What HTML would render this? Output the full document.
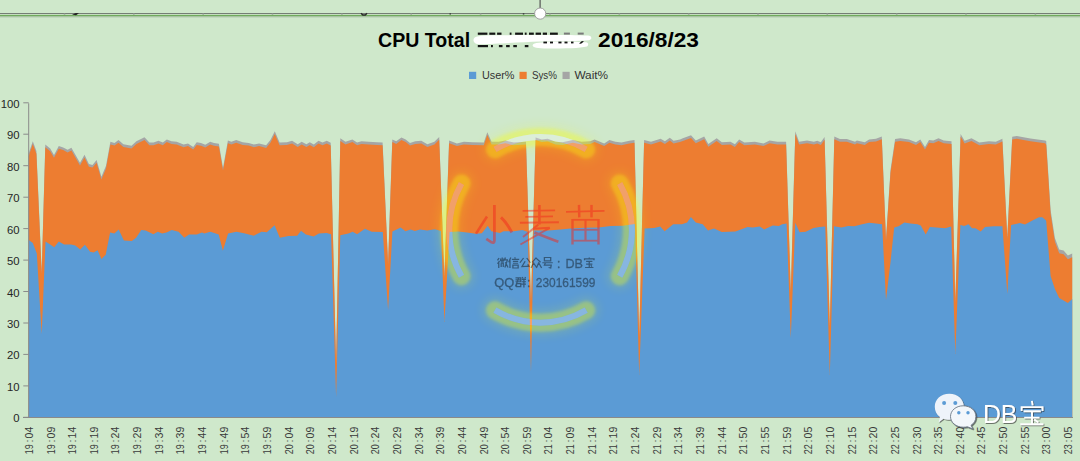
<!DOCTYPE html>
<html><head><meta charset="utf-8"><style>
html,body{margin:0;padding:0;width:1080px;height:461px;overflow:hidden;background:#cfe8cb;}
svg{position:absolute;left:0;top:0;font-family:"Liberation Sans",sans-serif;}
.yl{font-size:11.3px;fill:#262626;}
.xl{font-size:11.2px;fill:#3a3a3a;}
.lg{font-size:11px;fill:#333333;}
</style></head><body>
<svg width="1080" height="461" viewBox="0 0 1080 461">
<defs>
<filter id="glow" x="-50%" y="-50%" width="200%" height="200%"><feGaussianBlur stdDeviation="1.6"/></filter><filter id="glow2" x="-50%" y="-50%" width="200%" height="200%"><feGaussianBlur stdDeviation="5"/></filter>
<filter id="shd" x="-20%" y="-20%" width="140%" height="140%"><feDropShadow dx="0.8" dy="0.8" stdDeviation="0.6" flood-color="#333" flood-opacity="0.8"/></filter>
</defs>
<rect width="1080" height="461" fill="#cfe8cb"/>
<!-- top bar -->
<rect x="0" y="13" width="1080" height="1" fill="#757d75"/>
<rect x="0" y="14" width="1080" height="0.8" fill="#dcebda"/>
<rect x="0" y="14.8" width="1080" height="1.5" fill="#6faa5c"/>
<rect x="0" y="16.3" width="1080" height="1" fill="#a3bb9f"/>
<rect x="539.5" y="0" width="1.2" height="8" fill="#555"/>
<rect x="63.7" y="13.6" width="1.6" height="1.2" fill="#a0a8a0"/><rect x="133.0" y="13.6" width="1.6" height="1.2" fill="#a0a8a0"/><rect x="202.4" y="13.6" width="1.6" height="1.2" fill="#a0a8a0"/><rect x="271.7" y="13.6" width="1.6" height="1.2" fill="#a0a8a0"/><rect x="341.1" y="13.6" width="1.6" height="1.2" fill="#a0a8a0"/><rect x="410.4" y="13.6" width="1.6" height="1.2" fill="#a0a8a0"/><rect x="479.8" y="13.6" width="1.6" height="1.2" fill="#a0a8a0"/><rect x="549.1" y="13.6" width="1.6" height="1.2" fill="#a0a8a0"/><rect x="618.5" y="13.6" width="1.6" height="1.2" fill="#a0a8a0"/><rect x="687.9" y="13.6" width="1.6" height="1.2" fill="#a0a8a0"/><rect x="757.2" y="13.6" width="1.6" height="1.2" fill="#a0a8a0"/><rect x="826.5" y="13.6" width="1.6" height="1.2" fill="#a0a8a0"/><rect x="895.9" y="13.6" width="1.6" height="1.2" fill="#a0a8a0"/><rect x="965.2" y="13.6" width="1.6" height="1.2" fill="#a0a8a0"/><rect x="1034.6" y="13.6" width="1.6" height="1.2" fill="#a0a8a0"/>
<circle cx="540.2" cy="13.6" r="5.6" fill="#fff" stroke="#999" stroke-width="0.9"/>
<path d="M72,14.5 L76,13 L79,13.2 L76,15.2 Z" fill="#222"/>
<path d="M361,13.3 L362.8,15 L365.3,15 L367,13.3" fill="none" stroke="#2a2a2a" stroke-width="1.4"/>
<rect x="449.5" y="13.3" width="1.5" height="1.2" fill="#333"/>
<rect x="522.8" y="13.3" width="1.5" height="1.2" fill="#333"/>
<!-- title -->
<text x="378.1" y="46.6" font-size="20" font-weight="bold" fill="#000" textLength="92" lengthAdjust="spacingAndGlyphs">CPU Total</text>
<text x="598" y="46.7" font-size="20" font-weight="bold" fill="#000" textLength="101" lengthAdjust="spacingAndGlyphs">2016/8/23</text>
<g fill="#141414">
<rect x="477.8" y="32.6" width="9.6" height="2.2"/>
<rect x="489.3" y="32.6" width="6.0" height="2.2"/>
<rect x="497.1" y="32.6" width="4.4" height="2.2"/>
<rect x="509.7" y="32.6" width="1.8" height="2.2"/>
<rect x="515.1" y="32.6" width="7.9" height="2.2"/>
<rect x="524.8" y="32.6" width="1.8" height="2.2"/>
<rect x="529" y="32.6" width="4.8" height="2.2"/>
<rect x="535.6" y="32.6" width="5.4" height="2.2"/>
<rect x="542.8" y="32.6" width="4.2" height="2.2"/>
<rect x="550" y="32.6" width="7.8" height="2.2"/>
<rect x="477.8" y="45" width="10.2" height="2.2"/>
<rect x="491" y="45" width="1.9" height="2.2"/>
<rect x="498.9" y="45" width="3.6" height="2.2"/>
<rect x="506.1" y="45" width="3.6" height="2.2"/>
<rect x="513.3" y="45" width="3.6" height="2.2"/>
<rect x="524.8" y="45" width="3.6" height="2.2"/>
</g><g fill="#7a7a7a">
<rect x="563.9" y="32.6" width="6.0" height="2"/>
<rect x="577.7" y="32.6" width="6.0" height="2"/>
</g>
<g fill="#fff">
<path d="M473.5,40 C473.5,36.2 480,35.3 495,35.3 C530,35 570,34.8 588,35.6 C592,36 592.5,39.2 589,40.2 C570,41.5 550,41.3 540,41.6 C520,42.3 495,43.8 482,44.2 C476,44.4 473.5,43 473.5,40 Z"/>
<path d="M532.6,45.3 C532.6,43.2 537,42.3 550,41.9 C565,41.5 580,41.6 586,42.2 C589,42.7 588.5,45.2 587,46.5 C580,48.2 565,48.5 548,48.5 C537,48.5 532.6,47.5 532.6,45.3 Z"/>
</g>
<g fill="#141414">
<rect x="543.4" y="41.6" width="3.6" height="1.8"/>
<rect x="550" y="41.6" width="3.0" height="1.8"/>
<rect x="558.4" y="41.6" width="3.1" height="1.8"/>
<rect x="564.5" y="41.6" width="3.0" height="1.8"/>
<rect x="571" y="41.6" width="2.5" height="1.8"/>
<path d="M579,43.5 L582,41 L584,41.5 L581,43.8 Z"/>
</g>
<!-- legend -->
<rect x="469" y="71.8" width="7.2" height="7.2" fill="#5b9bd5"/>
<text x="481.9" y="78.8" class="lg" textLength="32.6" lengthAdjust="spacingAndGlyphs">User%</text>
<rect x="519.5" y="71.8" width="7.2" height="7.2" fill="#ed7d31"/>
<text x="531.9" y="78.8" class="lg" textLength="25.1" lengthAdjust="spacingAndGlyphs">Sys%</text>
<rect x="562.5" y="71.8" width="7.2" height="7.2" fill="#a5a5a5"/>
<text x="574.4" y="78.8" class="lg" textLength="33.7" lengthAdjust="spacingAndGlyphs">Wait%</text>
<!-- chart -->
<path d="M28.7,417.3 L28.6,153.5 L32.8,141.3 L36.4,151.0 L41.7,271.0 L45.3,144.5 L50.2,148.6 L54.0,155.0 L58.8,146.0 L63.2,147.4 L67.6,149.7 L71.4,147.8 L80.0,162.7 L84.5,154.8 L88.9,164.0 L92.5,164.9 L96.6,160.0 L101.4,176.7 L106.0,165.7 L110.4,141.8 L114.5,142.9 L118.5,140.0 L123.4,144.2 L131.5,145.8 L136.4,141.3 L144.5,137.2 L149.4,142.6 L153.5,142.6 L158.5,140.8 L162.8,142.6 L166.8,139.4 L171.5,141.2 L176.7,141.7 L183.6,144.6 L188.0,143.4 L193.2,146.9 L196.7,142.2 L201.0,143.1 L205.3,144.8 L210.2,141.7 L214.0,143.1 L218.9,143.8 L223.0,167.7 L227.9,140.5 L231.4,141.7 L236.2,140.0 L242.7,142.2 L248.7,142.9 L253.9,144.6 L259.1,143.4 L266.1,145.2 L270.4,140.0 L274.8,131.3 L279.6,142.6 L286.9,142.2 L292.1,140.8 L297.7,144.3 L301.7,141.7 L306.4,144.3 L309.8,142.2 L313.8,144.6 L318.5,140.8 L322.5,142.6 L326.8,140.8 L330.7,142.7 L336.1,362.0 L340.3,138.2 L345.5,141.7 L352.4,139.4 L357.1,142.6 L361.5,141.2 L368.4,141.7 L377.1,142.2 L382.6,142.6 L388.1,262.0 L392.3,139.4 L396.2,141.2 L401.4,137.4 L405.7,139.4 L410.0,142.9 L415.3,141.2 L421.3,140.8 L427.4,144.3 L434.4,141.7 L439.2,137.0 L444.4,275.0 L449.1,140.5 L456.9,143.4 L463.9,141.7 L472.5,142.2 L483.8,142.6 L487.3,132.2 L491.6,141.7 L498.6,141.7 L505.2,140.5 L513.9,142.6 L526.0,141.7 L531.0,300.0 L535.6,137.4 L541.7,139.4 L547.7,138.7 L555.5,141.7 L562.5,142.2 L572.9,140.0 L581.6,141.7 L590.3,141.2 L594.6,139.4 L604.2,143.4 L609.4,140.0 L615.4,141.7 L621.5,142.6 L629.3,140.8 L634.5,140.0 L639.2,335.0 L644.1,140.0 L651.0,141.7 L660.6,138.7 L664.9,141.2 L669.8,137.7 L673.6,140.8 L680.0,139.4 L682.8,138.2 L691.0,135.3 L695.8,140.5 L704.2,136.5 L708.3,144.0 L716.7,138.2 L721.9,142.2 L730.5,141.7 L734.9,144.3 L739.2,139.4 L744.4,142.6 L754.8,141.7 L763.5,143.4 L769.6,140.5 L777.4,141.7 L786.1,141.7 L790.8,290.0 L795.3,131.3 L799.1,141.7 L807.0,140.5 L813.9,141.7 L817.3,140.8 L820.8,142.2 L824.6,137.0 L829.8,325.0 L834.3,136.5 L839.9,139.1 L846.8,139.1 L855.0,141.7 L856.9,140.5 L864.8,142.2 L869.1,139.4 L876.0,138.7 L881.8,136.5 L886.0,238.0 L890.5,170.0 L895.1,139.1 L900.3,138.2 L909.0,139.4 L916.0,142.2 L920.3,139.4 L925.0,146.9 L929.0,140.0 L933.3,140.5 L938.5,138.2 L943.7,140.5 L951.5,141.2 L955.3,300.0 L960.6,133.9 L964.6,140.8 L971.5,138.2 L979.3,142.6 L988.9,141.2 L995.8,141.7 L1002.4,138.7 L1007.3,236.0 L1012.2,136.7 L1016.7,136.1 L1030.4,138.5 L1045.0,140.6 L1046.2,141.0 L1048.2,172.0 L1050.6,210.0 L1054.9,238.0 L1059.2,249.5 L1063.6,250.5 L1067.9,255.5 L1072.2,253.5 L1072.2,417.3 Z" fill="#a5a5a5"/><path d="M28.7,417.3 L28.6,156.2 L32.8,144.0 L36.4,153.7 L41.7,273.7 L45.3,147.2 L50.2,151.3 L54.0,157.7 L58.8,148.7 L63.2,150.1 L67.6,152.4 L71.4,150.5 L80.0,165.4 L84.5,157.5 L88.9,166.7 L92.5,167.6 L96.6,162.7 L101.4,179.4 L106.0,168.4 L110.4,144.5 L114.5,145.6 L118.5,142.7 L123.4,146.9 L131.5,148.5 L136.4,144.0 L144.5,139.9 L149.4,145.3 L153.5,145.3 L158.5,143.5 L162.8,145.3 L166.8,142.1 L171.5,143.9 L176.7,144.4 L183.6,147.3 L188.0,146.1 L193.2,149.6 L196.7,144.9 L201.0,145.8 L205.3,147.5 L210.2,144.4 L214.0,145.8 L218.9,146.5 L223.0,170.4 L227.9,143.2 L231.4,144.4 L236.2,142.7 L242.7,144.9 L248.7,145.6 L253.9,147.3 L259.1,146.1 L266.1,147.9 L270.4,142.7 L274.8,134.0 L279.6,145.3 L286.9,144.9 L292.1,143.5 L297.7,147.0 L301.7,144.4 L306.4,147.0 L309.8,144.9 L313.8,147.3 L318.5,143.5 L322.5,145.3 L326.8,143.5 L330.7,145.4 L336.1,364.7 L340.3,140.9 L345.5,144.4 L352.4,142.1 L357.1,145.3 L361.5,143.9 L368.4,144.4 L377.1,144.9 L382.6,145.3 L388.1,264.7 L392.3,142.1 L396.2,143.9 L401.4,140.1 L405.7,142.1 L410.0,145.6 L415.3,143.9 L421.3,143.5 L427.4,147.0 L434.4,144.4 L439.2,139.7 L444.4,277.7 L449.1,143.2 L456.9,146.1 L463.9,144.4 L472.5,144.9 L483.8,145.3 L487.3,134.9 L491.6,144.4 L498.6,144.4 L505.2,143.2 L513.9,145.3 L526.0,144.4 L531.0,302.7 L535.6,140.1 L541.7,142.1 L547.7,141.4 L555.5,144.4 L562.5,144.9 L572.9,142.7 L581.6,144.4 L590.3,143.9 L594.6,142.1 L604.2,146.1 L609.4,142.7 L615.4,144.4 L621.5,145.3 L629.3,143.5 L634.5,142.7 L639.2,337.7 L644.1,142.7 L651.0,144.4 L660.6,141.4 L664.9,143.9 L669.8,140.4 L673.6,143.5 L680.0,142.1 L682.8,140.9 L691.0,138.0 L695.8,143.2 L704.2,139.2 L708.3,146.7 L716.7,140.9 L721.9,144.9 L730.5,144.4 L734.9,147.0 L739.2,142.1 L744.4,145.3 L754.8,144.4 L763.5,146.1 L769.6,143.2 L777.4,144.4 L786.1,144.4 L790.8,292.7 L795.3,134.0 L799.1,144.4 L807.0,143.2 L813.9,144.4 L817.3,143.5 L820.8,144.9 L824.6,139.7 L829.8,327.7 L834.3,139.2 L839.9,141.8 L846.8,141.8 L855.0,144.4 L856.9,143.2 L864.8,144.9 L869.1,142.1 L876.0,141.4 L881.8,139.2 L886.0,240.7 L890.5,172.7 L895.1,141.8 L900.3,140.9 L909.0,142.1 L916.0,144.9 L920.3,142.1 L925.0,149.6 L929.0,142.7 L933.3,143.2 L938.5,140.9 L943.7,143.2 L951.5,143.9 L955.3,302.7 L960.6,136.6 L964.6,143.5 L971.5,140.9 L979.3,145.3 L988.9,143.9 L995.8,144.4 L1002.4,141.4 L1007.3,238.7 L1012.2,139.4 L1016.7,138.8 L1030.4,141.2 L1045.0,143.3 L1046.2,144.8 L1048.2,175.8 L1050.6,213.8 L1054.9,241.8 L1059.2,253.3 L1063.6,254.3 L1067.9,259.3 L1072.2,257.3 L1072.2,417.3 Z" fill="#ed7d31"/><path d="M28.7,417.3 L28.8,239.9 L32.8,243.0 L36.8,253.4 L41.7,334.0 L45.5,241.6 L50.2,244.4 L54.2,247.3 L58.8,241.6 L64.1,244.4 L71.0,244.4 L75.3,245.6 L80.2,249.6 L84.9,244.7 L90.1,251.7 L93.6,252.5 L97.6,250.3 L101.4,259.0 L105.7,254.8 L110.1,232.6 L114.4,233.4 L118.7,229.4 L123.9,240.4 L131.8,240.9 L136.1,237.8 L141.3,230.0 L145.6,230.5 L153.4,234.3 L157.8,231.7 L162.1,233.4 L166.5,232.6 L171.7,230.0 L178.6,231.7 L184.3,237.8 L189.0,234.6 L196.8,234.6 L202.0,232.6 L204.3,233.4 L210.4,231.7 L218.7,234.6 L222.9,250.8 L228.1,233.4 L236.5,231.7 L245.1,233.4 L253.8,235.7 L261.6,231.7 L266.8,232.2 L274.6,225.3 L279.8,237.8 L288.5,236.0 L297.2,235.7 L301.0,230.8 L305.9,234.6 L313.7,236.4 L318.9,233.4 L326.7,232.9 L331.1,234.3 L336.1,397.0 L340.3,235.2 L348.4,233.4 L352.7,231.7 L357.1,234.3 L364.9,228.7 L371.8,231.7 L382.8,232.1 L388.1,310.0 L392.4,231.6 L400.7,227.4 L405.4,231.2 L410.6,229.5 L414.9,230.9 L420.1,229.5 L427.1,230.4 L434.9,229.2 L441.0,230.9 L444.4,322.0 L449.6,232.1 L458.3,231.6 L467.0,232.6 L475.7,233.8 L481.8,233.3 L487.8,225.7 L491.3,231.2 L500.0,233.0 L503.5,231.2 L513.9,231.2 L522.5,229.9 L527.8,232.1 L531.0,372.0 L533.8,230.4 L548.6,230.4 L560.4,229.5 L570.8,228.6 L584.7,227.8 L598.6,227.4 L610.8,226.0 L622.9,225.7 L635.0,224.0 L639.2,375.0 L644.6,228.6 L654.1,228.1 L660.2,226.4 L664.6,231.2 L673.2,224.3 L681.9,224.3 L687.1,222.6 L690.9,217.0 L695.8,222.6 L702.7,224.3 L708.0,230.4 L714.0,228.6 L721.8,232.1 L735.4,231.5 L747.6,227.1 L752.8,227.6 L759.7,226.6 L764.1,229.4 L772.7,225.4 L778.8,225.9 L782.3,224.2 L786.6,223.6 L790.8,338.0 L795.3,222.8 L799.6,232.3 L805.7,231.8 L813.5,228.0 L819.6,227.1 L825.3,226.6 L829.8,375.0 L834.0,226.2 L841.3,227.6 L848.2,225.9 L854.3,226.2 L862.1,224.2 L869.1,222.8 L876.0,223.6 L882.1,224.2 L886.0,300.0 L890.5,262.0 L894.2,227.6 L898.6,226.2 L904.3,222.4 L910.4,223.6 L917.4,224.2 L920.8,225.4 L925.7,234.6 L929.9,227.1 L936.5,227.6 L945.1,228.3 L951.2,226.6 L955.3,354.0 L960.4,224.9 L964.2,225.9 L968.6,224.2 L972.0,228.3 L975.5,228.3 L980.7,231.5 L985.0,227.1 L993.7,226.2 L1002.4,226.2 L1007.3,294.0 L1011.1,224.9 L1019.8,223.1 L1025.0,224.5 L1031.9,220.7 L1038.9,217.2 L1042.3,217.2 L1045.8,220.2 L1046.2,221.0 L1050.6,276.0 L1054.9,289.0 L1059.2,298.0 L1063.6,300.5 L1067.9,303.0 L1072.2,299.0 L1072.2,417.3 Z" fill="#5b9bd5"/>
<line x1="28.7" y1="103.3" x2="28.7" y2="417.3" stroke="#8a8a8a" stroke-width="1"/><line x1="23" y1="417.5" x2="1073" y2="417.5" stroke="#8a8a8a" stroke-width="1.2"/><line x1="23.3" y1="417.3" x2="28.7" y2="417.3" stroke="#8a8a8a" stroke-width="1"/><text x="19.6" y="422.3" text-anchor="end" class="yl">0</text><line x1="23.3" y1="385.9" x2="28.7" y2="385.9" stroke="#8a8a8a" stroke-width="1"/><text x="19.6" y="390.9" text-anchor="end" class="yl">10</text><line x1="23.3" y1="354.4" x2="28.7" y2="354.4" stroke="#8a8a8a" stroke-width="1"/><text x="19.6" y="359.4" text-anchor="end" class="yl">20</text><line x1="23.3" y1="323.0" x2="28.7" y2="323.0" stroke="#8a8a8a" stroke-width="1"/><text x="19.6" y="328.0" text-anchor="end" class="yl">30</text><line x1="23.3" y1="291.5" x2="28.7" y2="291.5" stroke="#8a8a8a" stroke-width="1"/><text x="19.6" y="296.5" text-anchor="end" class="yl">40</text><line x1="23.3" y1="260.1" x2="28.7" y2="260.1" stroke="#8a8a8a" stroke-width="1"/><text x="19.6" y="265.1" text-anchor="end" class="yl">50</text><line x1="23.3" y1="228.6" x2="28.7" y2="228.6" stroke="#8a8a8a" stroke-width="1"/><text x="19.6" y="233.6" text-anchor="end" class="yl">60</text><line x1="23.3" y1="197.2" x2="28.7" y2="197.2" stroke="#8a8a8a" stroke-width="1"/><text x="19.6" y="202.2" text-anchor="end" class="yl">70</text><line x1="23.3" y1="165.7" x2="28.7" y2="165.7" stroke="#8a8a8a" stroke-width="1"/><text x="19.6" y="170.7" text-anchor="end" class="yl">80</text><line x1="23.3" y1="134.2" x2="28.7" y2="134.2" stroke="#8a8a8a" stroke-width="1"/><text x="19.6" y="139.2" text-anchor="end" class="yl">90</text><line x1="23.3" y1="102.8" x2="28.7" y2="102.8" stroke="#8a8a8a" stroke-width="1"/><text x="19.6" y="107.8" text-anchor="end" class="yl">100</text><text transform="translate(32.85,454.2) rotate(-90)" class="xl" textLength="10" lengthAdjust="spacingAndGlyphs">19</text><text transform="translate(32.85,442.6) rotate(-90)" class="xl">:</text><text transform="translate(32.85,438.4) rotate(-90)" class="xl" textLength="11.7" lengthAdjust="spacingAndGlyphs">04</text><text transform="translate(54.50,454.2) rotate(-90)" class="xl" textLength="10" lengthAdjust="spacingAndGlyphs">19</text><text transform="translate(54.50,442.6) rotate(-90)" class="xl">:</text><text transform="translate(54.50,438.4) rotate(-90)" class="xl" textLength="11.7" lengthAdjust="spacingAndGlyphs">09</text><text transform="translate(76.15,454.2) rotate(-90)" class="xl" textLength="10" lengthAdjust="spacingAndGlyphs">19</text><text transform="translate(76.15,442.6) rotate(-90)" class="xl">:</text><text transform="translate(76.15,438.4) rotate(-90)" class="xl" textLength="11.7" lengthAdjust="spacingAndGlyphs">14</text><text transform="translate(97.80,454.2) rotate(-90)" class="xl" textLength="10" lengthAdjust="spacingAndGlyphs">19</text><text transform="translate(97.80,442.6) rotate(-90)" class="xl">:</text><text transform="translate(97.80,438.4) rotate(-90)" class="xl" textLength="11.7" lengthAdjust="spacingAndGlyphs">19</text><text transform="translate(119.45,454.2) rotate(-90)" class="xl" textLength="10" lengthAdjust="spacingAndGlyphs">19</text><text transform="translate(119.45,442.6) rotate(-90)" class="xl">:</text><text transform="translate(119.45,438.4) rotate(-90)" class="xl" textLength="11.7" lengthAdjust="spacingAndGlyphs">24</text><text transform="translate(141.10,454.2) rotate(-90)" class="xl" textLength="10" lengthAdjust="spacingAndGlyphs">19</text><text transform="translate(141.10,442.6) rotate(-90)" class="xl">:</text><text transform="translate(141.10,438.4) rotate(-90)" class="xl" textLength="11.7" lengthAdjust="spacingAndGlyphs">29</text><text transform="translate(162.75,454.2) rotate(-90)" class="xl" textLength="10" lengthAdjust="spacingAndGlyphs">19</text><text transform="translate(162.75,442.6) rotate(-90)" class="xl">:</text><text transform="translate(162.75,438.4) rotate(-90)" class="xl" textLength="11.7" lengthAdjust="spacingAndGlyphs">34</text><text transform="translate(184.40,454.2) rotate(-90)" class="xl" textLength="10" lengthAdjust="spacingAndGlyphs">19</text><text transform="translate(184.40,442.6) rotate(-90)" class="xl">:</text><text transform="translate(184.40,438.4) rotate(-90)" class="xl" textLength="11.7" lengthAdjust="spacingAndGlyphs">39</text><text transform="translate(206.05,454.2) rotate(-90)" class="xl" textLength="10" lengthAdjust="spacingAndGlyphs">19</text><text transform="translate(206.05,442.6) rotate(-90)" class="xl">:</text><text transform="translate(206.05,438.4) rotate(-90)" class="xl" textLength="11.7" lengthAdjust="spacingAndGlyphs">44</text><text transform="translate(227.70,454.2) rotate(-90)" class="xl" textLength="10" lengthAdjust="spacingAndGlyphs">19</text><text transform="translate(227.70,442.6) rotate(-90)" class="xl">:</text><text transform="translate(227.70,438.4) rotate(-90)" class="xl" textLength="11.7" lengthAdjust="spacingAndGlyphs">49</text><text transform="translate(249.35,454.2) rotate(-90)" class="xl" textLength="10" lengthAdjust="spacingAndGlyphs">19</text><text transform="translate(249.35,442.6) rotate(-90)" class="xl">:</text><text transform="translate(249.35,438.4) rotate(-90)" class="xl" textLength="11.7" lengthAdjust="spacingAndGlyphs">54</text><text transform="translate(271.00,454.2) rotate(-90)" class="xl" textLength="10" lengthAdjust="spacingAndGlyphs">19</text><text transform="translate(271.00,442.6) rotate(-90)" class="xl">:</text><text transform="translate(271.00,438.4) rotate(-90)" class="xl" textLength="11.7" lengthAdjust="spacingAndGlyphs">59</text><text transform="translate(292.65,454.2) rotate(-90)" class="xl" textLength="10" lengthAdjust="spacingAndGlyphs">20</text><text transform="translate(292.65,442.6) rotate(-90)" class="xl">:</text><text transform="translate(292.65,438.4) rotate(-90)" class="xl" textLength="11.7" lengthAdjust="spacingAndGlyphs">04</text><text transform="translate(314.30,454.2) rotate(-90)" class="xl" textLength="10" lengthAdjust="spacingAndGlyphs">20</text><text transform="translate(314.30,442.6) rotate(-90)" class="xl">:</text><text transform="translate(314.30,438.4) rotate(-90)" class="xl" textLength="11.7" lengthAdjust="spacingAndGlyphs">09</text><text transform="translate(335.95,454.2) rotate(-90)" class="xl" textLength="10" lengthAdjust="spacingAndGlyphs">20</text><text transform="translate(335.95,442.6) rotate(-90)" class="xl">:</text><text transform="translate(335.95,438.4) rotate(-90)" class="xl" textLength="11.7" lengthAdjust="spacingAndGlyphs">14</text><text transform="translate(357.60,454.2) rotate(-90)" class="xl" textLength="10" lengthAdjust="spacingAndGlyphs">20</text><text transform="translate(357.60,442.6) rotate(-90)" class="xl">:</text><text transform="translate(357.60,438.4) rotate(-90)" class="xl" textLength="11.7" lengthAdjust="spacingAndGlyphs">19</text><text transform="translate(379.25,454.2) rotate(-90)" class="xl" textLength="10" lengthAdjust="spacingAndGlyphs">20</text><text transform="translate(379.25,442.6) rotate(-90)" class="xl">:</text><text transform="translate(379.25,438.4) rotate(-90)" class="xl" textLength="11.7" lengthAdjust="spacingAndGlyphs">24</text><text transform="translate(400.90,454.2) rotate(-90)" class="xl" textLength="10" lengthAdjust="spacingAndGlyphs">20</text><text transform="translate(400.90,442.6) rotate(-90)" class="xl">:</text><text transform="translate(400.90,438.4) rotate(-90)" class="xl" textLength="11.7" lengthAdjust="spacingAndGlyphs">29</text><text transform="translate(422.55,454.2) rotate(-90)" class="xl" textLength="10" lengthAdjust="spacingAndGlyphs">20</text><text transform="translate(422.55,442.6) rotate(-90)" class="xl">:</text><text transform="translate(422.55,438.4) rotate(-90)" class="xl" textLength="11.7" lengthAdjust="spacingAndGlyphs">34</text><text transform="translate(444.20,454.2) rotate(-90)" class="xl" textLength="10" lengthAdjust="spacingAndGlyphs">20</text><text transform="translate(444.20,442.6) rotate(-90)" class="xl">:</text><text transform="translate(444.20,438.4) rotate(-90)" class="xl" textLength="11.7" lengthAdjust="spacingAndGlyphs">39</text><text transform="translate(465.85,454.2) rotate(-90)" class="xl" textLength="10" lengthAdjust="spacingAndGlyphs">20</text><text transform="translate(465.85,442.6) rotate(-90)" class="xl">:</text><text transform="translate(465.85,438.4) rotate(-90)" class="xl" textLength="11.7" lengthAdjust="spacingAndGlyphs">44</text><text transform="translate(487.50,454.2) rotate(-90)" class="xl" textLength="10" lengthAdjust="spacingAndGlyphs">20</text><text transform="translate(487.50,442.6) rotate(-90)" class="xl">:</text><text transform="translate(487.50,438.4) rotate(-90)" class="xl" textLength="11.7" lengthAdjust="spacingAndGlyphs">49</text><text transform="translate(509.15,454.2) rotate(-90)" class="xl" textLength="10" lengthAdjust="spacingAndGlyphs">20</text><text transform="translate(509.15,442.6) rotate(-90)" class="xl">:</text><text transform="translate(509.15,438.4) rotate(-90)" class="xl" textLength="11.7" lengthAdjust="spacingAndGlyphs">54</text><text transform="translate(530.80,454.2) rotate(-90)" class="xl" textLength="10" lengthAdjust="spacingAndGlyphs">20</text><text transform="translate(530.80,442.6) rotate(-90)" class="xl">:</text><text transform="translate(530.80,438.4) rotate(-90)" class="xl" textLength="11.7" lengthAdjust="spacingAndGlyphs">59</text><text transform="translate(552.45,454.2) rotate(-90)" class="xl" textLength="10" lengthAdjust="spacingAndGlyphs">21</text><text transform="translate(552.45,442.6) rotate(-90)" class="xl">:</text><text transform="translate(552.45,438.4) rotate(-90)" class="xl" textLength="11.7" lengthAdjust="spacingAndGlyphs">04</text><text transform="translate(574.10,454.2) rotate(-90)" class="xl" textLength="10" lengthAdjust="spacingAndGlyphs">21</text><text transform="translate(574.10,442.6) rotate(-90)" class="xl">:</text><text transform="translate(574.10,438.4) rotate(-90)" class="xl" textLength="11.7" lengthAdjust="spacingAndGlyphs">09</text><text transform="translate(595.75,454.2) rotate(-90)" class="xl" textLength="10" lengthAdjust="spacingAndGlyphs">21</text><text transform="translate(595.75,442.6) rotate(-90)" class="xl">:</text><text transform="translate(595.75,438.4) rotate(-90)" class="xl" textLength="11.7" lengthAdjust="spacingAndGlyphs">14</text><text transform="translate(617.40,454.2) rotate(-90)" class="xl" textLength="10" lengthAdjust="spacingAndGlyphs">21</text><text transform="translate(617.40,442.6) rotate(-90)" class="xl">:</text><text transform="translate(617.40,438.4) rotate(-90)" class="xl" textLength="11.7" lengthAdjust="spacingAndGlyphs">19</text><text transform="translate(639.05,454.2) rotate(-90)" class="xl" textLength="10" lengthAdjust="spacingAndGlyphs">21</text><text transform="translate(639.05,442.6) rotate(-90)" class="xl">:</text><text transform="translate(639.05,438.4) rotate(-90)" class="xl" textLength="11.7" lengthAdjust="spacingAndGlyphs">24</text><text transform="translate(660.70,454.2) rotate(-90)" class="xl" textLength="10" lengthAdjust="spacingAndGlyphs">21</text><text transform="translate(660.70,442.6) rotate(-90)" class="xl">:</text><text transform="translate(660.70,438.4) rotate(-90)" class="xl" textLength="11.7" lengthAdjust="spacingAndGlyphs">29</text><text transform="translate(682.35,454.2) rotate(-90)" class="xl" textLength="10" lengthAdjust="spacingAndGlyphs">21</text><text transform="translate(682.35,442.6) rotate(-90)" class="xl">:</text><text transform="translate(682.35,438.4) rotate(-90)" class="xl" textLength="11.7" lengthAdjust="spacingAndGlyphs">34</text><text transform="translate(704.00,454.2) rotate(-90)" class="xl" textLength="10" lengthAdjust="spacingAndGlyphs">21</text><text transform="translate(704.00,442.6) rotate(-90)" class="xl">:</text><text transform="translate(704.00,438.4) rotate(-90)" class="xl" textLength="11.7" lengthAdjust="spacingAndGlyphs">39</text><text transform="translate(725.65,454.2) rotate(-90)" class="xl" textLength="10" lengthAdjust="spacingAndGlyphs">21</text><text transform="translate(725.65,442.6) rotate(-90)" class="xl">:</text><text transform="translate(725.65,438.4) rotate(-90)" class="xl" textLength="11.7" lengthAdjust="spacingAndGlyphs">44</text><text transform="translate(747.30,454.2) rotate(-90)" class="xl" textLength="10" lengthAdjust="spacingAndGlyphs">21</text><text transform="translate(747.30,442.6) rotate(-90)" class="xl">:</text><text transform="translate(747.30,438.4) rotate(-90)" class="xl" textLength="11.7" lengthAdjust="spacingAndGlyphs">50</text><text transform="translate(768.95,454.2) rotate(-90)" class="xl" textLength="10" lengthAdjust="spacingAndGlyphs">21</text><text transform="translate(768.95,442.6) rotate(-90)" class="xl">:</text><text transform="translate(768.95,438.4) rotate(-90)" class="xl" textLength="11.7" lengthAdjust="spacingAndGlyphs">55</text><text transform="translate(790.60,454.2) rotate(-90)" class="xl" textLength="10" lengthAdjust="spacingAndGlyphs">21</text><text transform="translate(790.60,442.6) rotate(-90)" class="xl">:</text><text transform="translate(790.60,438.4) rotate(-90)" class="xl" textLength="11.7" lengthAdjust="spacingAndGlyphs">59</text><text transform="translate(812.25,454.2) rotate(-90)" class="xl" textLength="10" lengthAdjust="spacingAndGlyphs">22</text><text transform="translate(812.25,442.6) rotate(-90)" class="xl">:</text><text transform="translate(812.25,438.4) rotate(-90)" class="xl" textLength="11.7" lengthAdjust="spacingAndGlyphs">05</text><text transform="translate(833.90,454.2) rotate(-90)" class="xl" textLength="10" lengthAdjust="spacingAndGlyphs">22</text><text transform="translate(833.90,442.6) rotate(-90)" class="xl">:</text><text transform="translate(833.90,438.4) rotate(-90)" class="xl" textLength="11.7" lengthAdjust="spacingAndGlyphs">10</text><text transform="translate(855.55,454.2) rotate(-90)" class="xl" textLength="10" lengthAdjust="spacingAndGlyphs">22</text><text transform="translate(855.55,442.6) rotate(-90)" class="xl">:</text><text transform="translate(855.55,438.4) rotate(-90)" class="xl" textLength="11.7" lengthAdjust="spacingAndGlyphs">15</text><text transform="translate(877.20,454.2) rotate(-90)" class="xl" textLength="10" lengthAdjust="spacingAndGlyphs">22</text><text transform="translate(877.20,442.6) rotate(-90)" class="xl">:</text><text transform="translate(877.20,438.4) rotate(-90)" class="xl" textLength="11.7" lengthAdjust="spacingAndGlyphs">20</text><text transform="translate(898.85,454.2) rotate(-90)" class="xl" textLength="10" lengthAdjust="spacingAndGlyphs">22</text><text transform="translate(898.85,442.6) rotate(-90)" class="xl">:</text><text transform="translate(898.85,438.4) rotate(-90)" class="xl" textLength="11.7" lengthAdjust="spacingAndGlyphs">25</text><text transform="translate(920.50,454.2) rotate(-90)" class="xl" textLength="10" lengthAdjust="spacingAndGlyphs">22</text><text transform="translate(920.50,442.6) rotate(-90)" class="xl">:</text><text transform="translate(920.50,438.4) rotate(-90)" class="xl" textLength="11.7" lengthAdjust="spacingAndGlyphs">30</text><text transform="translate(942.15,454.2) rotate(-90)" class="xl" textLength="10" lengthAdjust="spacingAndGlyphs">22</text><text transform="translate(942.15,442.6) rotate(-90)" class="xl">:</text><text transform="translate(942.15,438.4) rotate(-90)" class="xl" textLength="11.7" lengthAdjust="spacingAndGlyphs">35</text><text transform="translate(963.80,454.2) rotate(-90)" class="xl" textLength="10" lengthAdjust="spacingAndGlyphs">22</text><text transform="translate(963.80,442.6) rotate(-90)" class="xl">:</text><text transform="translate(963.80,438.4) rotate(-90)" class="xl" textLength="11.7" lengthAdjust="spacingAndGlyphs">40</text><text transform="translate(985.45,454.2) rotate(-90)" class="xl" textLength="10" lengthAdjust="spacingAndGlyphs">22</text><text transform="translate(985.45,442.6) rotate(-90)" class="xl">:</text><text transform="translate(985.45,438.4) rotate(-90)" class="xl" textLength="11.7" lengthAdjust="spacingAndGlyphs">45</text><text transform="translate(1007.10,454.2) rotate(-90)" class="xl" textLength="10" lengthAdjust="spacingAndGlyphs">22</text><text transform="translate(1007.10,442.6) rotate(-90)" class="xl">:</text><text transform="translate(1007.10,438.4) rotate(-90)" class="xl" textLength="11.7" lengthAdjust="spacingAndGlyphs">50</text><text transform="translate(1028.75,454.2) rotate(-90)" class="xl" textLength="10" lengthAdjust="spacingAndGlyphs">22</text><text transform="translate(1028.75,442.6) rotate(-90)" class="xl">:</text><text transform="translate(1028.75,438.4) rotate(-90)" class="xl" textLength="11.7" lengthAdjust="spacingAndGlyphs">55</text><text transform="translate(1050.40,454.2) rotate(-90)" class="xl" textLength="10" lengthAdjust="spacingAndGlyphs">23</text><text transform="translate(1050.40,442.6) rotate(-90)" class="xl">:</text><text transform="translate(1050.40,438.4) rotate(-90)" class="xl" textLength="11.7" lengthAdjust="spacingAndGlyphs">00</text><text transform="translate(1072.05,454.2) rotate(-90)" class="xl" textLength="10" lengthAdjust="spacingAndGlyphs">23</text><text transform="translate(1072.05,442.6) rotate(-90)" class="xl">:</text><text transform="translate(1072.05,438.4) rotate(-90)" class="xl" textLength="11.7" lengthAdjust="spacingAndGlyphs">05</text>
<!-- watermark -->
<mask id="km" maskUnits="userSpaceOnUse" x="0" y="0" width="1080" height="461"><rect width="1080" height="461" fill="#fff"/><path d="M586.2,149.4 A91.3,92.8 0 0 0 495.0,149.4" stroke="#000" stroke-width="6" fill="none"/><path d="M461.5,183.4 A91.3,92.8 0 0 0 461.5,276.2" stroke="#000" stroke-width="6" fill="none"/><path d="M494.9,310.2 A91.3,92.8 0 0 0 586.2,310.2" stroke="#000" stroke-width="6" fill="none"/><path d="M619.7,276.2 A91.3,92.8 0 0 0 619.7,183.4" stroke="#000" stroke-width="6" fill="none"/></mask><g mask="url(#km)"><g filter="url(#glow2)" opacity="0.12"><path d="M586.2,149.4 A91.3,92.8 0 0 0 495.0,149.4" stroke="#f8ff10" stroke-width="26" stroke-linecap="round" fill="none"/><path d="M461.5,183.4 A91.3,92.8 0 0 0 461.5,276.2" stroke="#f8ff10" stroke-width="26" stroke-linecap="round" fill="none"/><path d="M494.9,310.2 A91.3,92.8 0 0 0 586.2,310.2" stroke="#f8ff10" stroke-width="26" stroke-linecap="round" fill="none"/><path d="M619.7,276.2 A91.3,92.8 0 0 0 619.7,183.4" stroke="#f8ff10" stroke-width="26" stroke-linecap="round" fill="none"/></g><g filter="url(#glow)" opacity="0.3"><path d="M586.2,149.4 A91.3,92.8 0 0 0 495.0,149.4" stroke="#f8ff10" stroke-width="18" stroke-linecap="round" fill="none"/><path d="M461.5,183.4 A91.3,92.8 0 0 0 461.5,276.2" stroke="#f8ff10" stroke-width="18" stroke-linecap="round" fill="none"/><path d="M494.9,310.2 A91.3,92.8 0 0 0 586.2,310.2" stroke="#f8ff10" stroke-width="18" stroke-linecap="round" fill="none"/><path d="M619.7,276.2 A91.3,92.8 0 0 0 619.7,183.4" stroke="#f8ff10" stroke-width="18" stroke-linecap="round" fill="none"/></g></g><g opacity="0.27"><path d="M586.2,149.4 A91.3,92.8 0 0 0 495.0,149.4" stroke="#ffffff" stroke-width="6" fill="none"/><path d="M461.5,183.4 A91.3,92.8 0 0 0 461.5,276.2" stroke="#ffffff" stroke-width="6" fill="none"/><path d="M494.9,310.2 A91.3,92.8 0 0 0 586.2,310.2" stroke="#ffffff" stroke-width="6" fill="none"/><path d="M619.7,276.2 A91.3,92.8 0 0 0 619.7,183.4" stroke="#ffffff" stroke-width="6" fill="none"/></g><g fill="none" stroke="#f22a1e" opacity="0.5" stroke-linecap="butt">
<path d="M494.4,205 L494.4,240.5 Q494.3,243.5 491.5,242.3 L486.3,238.8" stroke-width="2.8"/>
<path d="M487,216.5 L476,233.6" stroke-width="2.6"/>
<path d="M501,217.4 Q507,223 511.8,232.5" stroke-width="2.9"/>
<path d="M522.6,210.8 L555.1,210.3" stroke-width="1.8"/>
<path d="M539.4,205 L539.4,224.5" stroke-width="2.6"/>
<path d="M525.3,216.8 L553,216.3" stroke-width="1.8"/>
<path d="M519.9,222.8 L558.9,222.2" stroke-width="1.9"/>
<path d="M538.3,224.6 L523,237" stroke-width="2"/>
<path d="M533.4,228.8 L549.7,227.8 L520.4,244.5" stroke-width="2"/>
<path d="M534.5,232.5 Q548,238 558.4,241.8" stroke-width="2.6"/>
<path d="M566,211.9 L604.5,210.8" stroke-width="1.8"/>
<path d="M579,204.9 L579.3,217.4" stroke-width="2.5"/>
<path d="M591.5,204.9 L591.5,217.4" stroke-width="2.5"/>
<path d="M572.5,219 L572.5,244.5" stroke-width="2.4"/>
<path d="M598.5,219 L598.5,244.5" stroke-width="2.4"/>
<path d="M572.5,219.8 L598.5,219.8" stroke-width="1.8"/>
<path d="M572.5,229.8 L598.5,229.8" stroke-width="1.8"/>
<path d="M572.5,240.7 L598.5,240.7" stroke-width="1.8"/>
<path d="M585.5,219.8 L585.5,240.7" stroke-width="2.2"/>
</g><path transform="translate(497.5,257.5) scale(1.050,0.955)" d="M1.5,0.5 L0,3 M2,3.5 L0,6.5 M1.2,5 L1.2,11 M3,1 L3,3 L6,3 L6,1 M4.5,0 L4.5,3 M3,4.5 L6,4.5 M3.5,6 L3.5,10 M3.5,6 L5.5,6 L5.5,10 M7.5,0 L6.8,3 M7,2.5 L10,2.5 M9.5,2.5 L7,10.5 M7.5,5 L10,10.5" fill="none" stroke="#000" stroke-width="1.24" opacity="0.42"/><path transform="translate(508.7,257.5) scale(1.050,0.955)" d="M2,0 L0,5 M1.2,3 L1.2,11 M5.5,0 L6.5,1 M3,2 L10,2 M4,4 L9,4 M4,6 L9,6 M4,8 L9,8 L9,11 L4,11 Z" fill="none" stroke="#000" stroke-width="1.24" opacity="0.42"/><path transform="translate(519.9,257.5) scale(1.050,0.955)" d="M3.5,0.5 L0,5.5 M6.5,0.5 L10,5.5 M5,4 L2,9.5 L9,9 M7.5,7 L9,10" fill="none" stroke="#000" stroke-width="1.24" opacity="0.42"/><path transform="translate(531.1,257.5) scale(1.050,0.955)" d="M5,0 L1,5 M5,1 L9,5 M2.5,5 L0,11 M2.5,6 L5,10 M7.5,5 L5,11 M7.5,6 L10,11" fill="none" stroke="#000" stroke-width="1.24" opacity="0.42"/><path transform="translate(542.3,257.5) scale(1.050,0.955)" d="M2,0 L8,0 L8,3.5 L2,3.5 Z M0,5.5 L10,5.5 M3,5.5 L2,8 L8.5,8 L8,11 L6,10.5" fill="none" stroke="#000" stroke-width="1.24" opacity="0.42"/><text x="557" y="268" font-size="12" fill="#000" stroke="#000" stroke-width="0.4" opacity="0.42">:</text><text x="565.5" y="268" font-size="12.5" fill="#000" stroke="#000" stroke-width="0.35" opacity="0.42" textLength="17.5" lengthAdjust="spacingAndGlyphs">DB</text><path transform="translate(584,257.5) scale(1.050,0.955)" d="M5,0 L5,1 M0.5,3 L0.5,1.5 L9.5,1.5 L9.5,3 M2,4 L8,4 M2,7 L8,7 M1,10.5 L9,10.5 M5,4 L5,10.5 M6.5,8 L7.5,9.5" fill="none" stroke="#000" stroke-width="1.24" opacity="0.42"/><text x="494.3" y="287.2" font-size="12.5" fill="#000" stroke="#000" stroke-width="0.35" opacity="0.42" textLength="20" lengthAdjust="spacingAndGlyphs">QQ</text><path transform="translate(515.5,277) scale(1.050,0.955)" d="M0,1 L5,1 L5,5 L0,5 M0,3 L5,3 M3,1 L0,10 M1,7 L5,7 L5,10 L1,10 Z M6.5,0 L7,1.5 M9.5,0 L9,1.5 M6,2.5 L10,2.5 M6,5 L10,5 M5.5,7.5 L10,7.5 M8,1.5 L8,11" fill="none" stroke="#000" stroke-width="1.24" opacity="0.42"/><text x="527" y="287.2" font-size="12" fill="#000" stroke="#000" stroke-width="0.4" opacity="0.42">:</text><text x="535.8" y="287.2" font-size="13" fill="#000" stroke="#000" stroke-width="0.35" opacity="0.42" textLength="59.6" lengthAdjust="spacingAndGlyphs">230161599</text>
<!-- wechat logo -->
<g filter="url(#shd)">
<path d="M949.3,393.7 C958,393.7 963.8,399.5 963.8,406.7 C963.8,414 958,419.7 949.3,419.7 C947,419.7 945,419.3 943.5,418.7 L938.5,422.5 L940,417 C936.5,414.5 934.8,411 934.8,406.7 C934.8,399.5 940.6,393.7 949.3,393.7 Z" fill="#eef3fa"/>
<circle cx="944.1" cy="402.9" r="2" fill="#5b9bd5"/><circle cx="955.3" cy="402.9" r="2" fill="#5b9bd5"/>
<path d="M963.2,405.8 C970.5,405.8 975.9,410.5 975.9,416.5 C975.9,420.5 974,423.5 971,425.3 L973,429 L967.5,426.8 C966,427.1 964.7,427.2 963.2,427.2 C956,427.2 950.5,422.5 950.5,416.5 C950.5,410.5 956,405.8 963.2,405.8 Z" fill="#f3f7fb" stroke="#6b7785" stroke-width="0.9"/>
<circle cx="958.8" cy="412.8" r="1.7" fill="#5b9bd5"/><circle cx="968" cy="412.8" r="1.7" fill="#5b9bd5"/>
<text x="982.9" y="423" font-size="26.6" fill="#fff" textLength="34.6" lengthAdjust="spacingAndGlyphs">DB</text>
<path d="M1031.9,400.9 L1032.6,405.4 M1021.6,411 L1021.6,407.1 L1042.5,407.1 L1042.5,411 M1023.6,411.2 L1040.8,411.2 M1024.2,417.6 L1039.5,417.6 M1020.3,424.3 L1043.4,424.3 M1032,411.2 L1032,424.3 M1034.2,419.6 L1038.4,422.6" fill="none" stroke="#fff" stroke-width="1.9"/>
</g>
</svg>
</body></html>
